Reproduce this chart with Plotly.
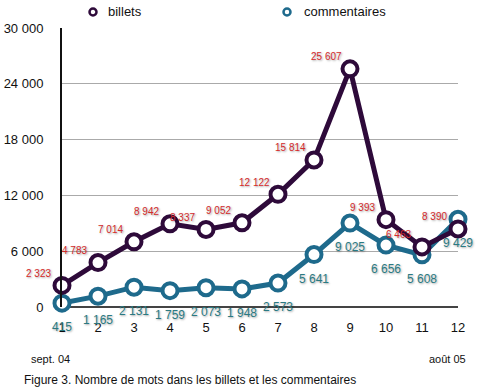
import plotly.graph_objects as go

months = list(range(1, 13))
billets = [2323, 4783, 7014, 8942, 8337, 9052, 12122, 15814, 25607, 9393, 6463, 8390]
commentaires = [415, 1165, 2131, 1759, 2073, 1948, 2573, 5641, 9025, 6656, 5608, 9429]
ytickvals = [0, 6000, 12000, 18000, 24000, 30000]
yticktext = ["0", "6 000", "12 000", "18 000", "24 000", "30 000"]
series_names = ["billets", "commentaires"]

PURPLE = "#2e0a3a"
TEAL = "#1e6a8c"
RED = "#d42a2a"
TEAL_TXT = "#2a7a82"
FONT = "Liberation Sans, Arial, sans-serif"

W, H = 477, 392
L, R, T, B = 62, 19, 28, 85
PW, PH = W - L - R, H - T - B

def px(xp):
    return (xp - L) / PW

def py(yp):
    return 1 - (yp - T) / PH

def fmt(v):
    return f"{v:,}".replace(",", " ")

fig = go.Figure()
fig.add_trace(go.Scatter(x=months, y=commentaires, mode="lines+markers", name=series_names[1],
                         showlegend=False,
                         line=dict(color=TEAL, width=5),
                         marker=dict(symbol="circle", size=15, color="white",
                                     line=dict(color=TEAL, width=4)),
                         cliponaxis=False))
fig.add_trace(go.Scatter(x=months, y=billets, mode="lines+markers", name=series_names[0],
                         showlegend=False,
                         line=dict(color=PURPLE, width=5),
                         marker=dict(symbol="circle", size=15, color="white",
                                     line=dict(color=PURPLE, width=4)),
                         cliponaxis=False))

annotations = []
shadow = "1px 1px 2px rgba(0,0,0,0.35)"
for m, v in zip(months, billets):
    annotations.append(dict(x=m, y=v, xref="x", yref="y", text=fmt(v), showarrow=False,
                            xshift=-24, yshift=12,
                            font=dict(family=FONT, size=10, color=RED, shadow=shadow)))
for m, v in zip(months, commentaires):
    annotations.append(dict(x=m, y=v, xref="x", yref="y", text=fmt(v), showarrow=False,
                            xshift=0, yshift=-24,
                            font=dict(family=FONT, size=12, color=TEAL_TXT, shadow=shadow)))
annotations.append(dict(x=px(50), y=py(359), xref="paper", yref="paper", text="sept. 04",
                        showarrow=False, xanchor="center", yanchor="middle",
                        font=dict(family=FONT, size=11, color="#111")))
annotations.append(dict(x=px(447), y=py(359), xref="paper", yref="paper",
                        text="août 05", showarrow=False, xanchor="center", yanchor="middle",
                        font=dict(family=FONT, size=11, color="#111")))
annotations.append(dict(x=px(22), y=py(380), xref="paper", yref="paper",
                        text="Figure 3. Nombre de mots dans les billets et les commentaires",
                        showarrow=False, xanchor="left", yanchor="middle",
                        font=dict(family=FONT, size=12, color="#111")))

# manual legend
shapes = []
for name, col, mx, tx in [(series_names[0], PURPLE, 93, 106), (series_names[1], TEAL, 287, 302)]:
    shapes.append(dict(type="circle", xref="paper", yref="paper", xsizemode="pixel",
                       ysizemode="pixel", xanchor=px(mx), yanchor=py(12),
                       x0=-3.5, x1=3.5, y0=-3.5, y1=3.5,
                       line=dict(color=col, width=2.5), fillcolor="white"))
    annotations.append(dict(x=px(tx), y=py(12), xref="paper", yref="paper", text=name,
                            showarrow=False, xanchor="left", yanchor="middle",
                            font=dict(family=FONT, size=13, color="#111")))

fig.update_layout(
    template="none",
    width=W, height=H,
    margin=dict(l=L, r=R, t=T, b=B, autoexpand=False),
    paper_bgcolor="white", plot_bgcolor="white",
    font=dict(family=FONT, size=13, color="#111"),
    annotations=annotations,
    shapes=shapes,
    showlegend=False,
    xaxis=dict(range=[1, 12], tickvals=months, ticktext=[str(m) for m in months],
               showgrid=False, zeroline=False, showline=False, ticks="", automargin=False,
               tickfont=dict(family=FONT, size=13, color="#111"), ticklabelstandoff=11),
    yaxis=dict(range=[0, 30000], tickvals=ytickvals, ticktext=yticktext, automargin=False,
               showgrid=True, gridcolor="#aaaaaa", gridwidth=1,
               zeroline=True, zerolinecolor="#444444", zerolinewidth=2,
               showline=True, linecolor="#111111", linewidth=2, ticks="",
               tickfont=dict(family=FONT, size=13, color="#111"), ticklabelstandoff=14),
)

fig.write_html("out.html", config={"displayModeBar": False},
               post_script="document.body.style.margin='0';")
